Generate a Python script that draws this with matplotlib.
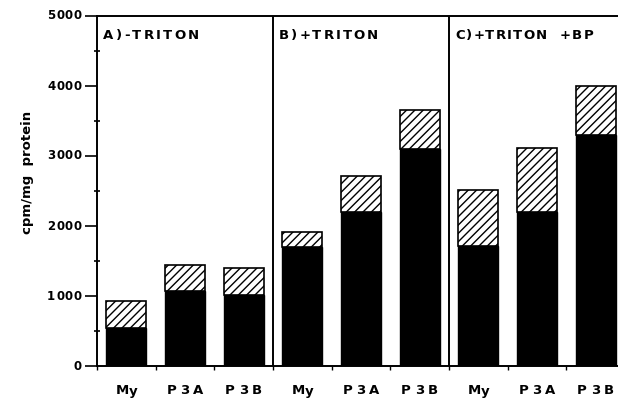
import matplotlib
matplotlib.use("Agg")
import matplotlib.pyplot as plt
from matplotlib.transforms import offset_copy
import numpy as np

plt.rcParams['font.family'] = ['DejaVu Sans']
plt.rcParams['hatch.linewidth'] = 1.0

panels = ["A)-TRITON", "B)+TRITON", "C)+TRITON  +BP"]
categories = ["My", "P3A", "P3B"]
# black (lower) portion and total height per panel
black_vals = [[550, 1070, 1020],
              [1700, 2200, 3100],
              [1720, 2200, 3300]]
total_vals = [[930, 1440, 1400],
              [1910, 2720, 3660],
              [2510, 3120, 4000]]
y_ticks = [0, 1000, 2000, 3000, 4000, 5000]

fig = plt.figure(figsize=(6.18, 4.03), dpi=100)
ax = fig.add_axes([97/618, 1-366/403, (625-97)/618, 350/403])
renderer = fig.canvas.get_renderer()


def char_width(ch, **kw):
    t1 = fig.text(0, 0, "x" + ch + "x", **kw)
    t2 = fig.text(0, 0, "xx", **kw)
    w = t1.get_window_extent(renderer).width - t2.get_window_extent(renderer).width
    t1.remove()
    t2.remove()
    return w


def spaced_text(x, y, s, gap, transform, ha='left', va='center', dx=0, dy=0, **kw):
    widths = [char_width(c, **kw) for c in s]
    total = sum(widths) + gap * (len(s) - 1)
    off = {'left': 0, 'center': -total / 2, 'right': -total}[ha] + dx
    for c, w in zip(s, widths):
        if c != ' ':
            tr = offset_copy(transform, fig=fig, x=off, y=dy, units='dots')
            ax.text(x, y, c, transform=tr, ha='left', va=va, clip_on=False, **kw)
        off += w + gap


n = len(categories)
centers, labels, blacks, tops = [], [], [], []
for p in range(len(panels)):
    for i in range(n):
        centers.append(p*n + i + 0.5)
        labels.append(categories[i])
        blacks.append(black_vals[p][i])
        tops.append(total_vals[p][i] - black_vals[p][i])
centers = np.array(centers)
blacks = np.array(blacks)
tops = np.array(tops)

w = 0.68
ax.bar(centers, blacks, width=w, color='black', edgecolor='black', linewidth=1.0)
ax.bar(centers, tops, bottom=blacks, width=w, facecolor='white', edgecolor='black',
       hatch='////', linewidth=1.2)

for p in range(1, len(panels)):
    ax.axvline(p*n, color='black', linewidth=1.4)

ax.set_xlim(0, len(panels)*n)
ax.set_ylim(0, 5000)

# panel titles
title_gap = [2.3, 2.0, 1.2]
for p, name in enumerate(panels):
    spaced_text(p*n, 4723, name, title_gap[p], ax.transData, ha='left', va='center', dx=6,
                fontsize=9.5, fontweight='bold')

# y tick labels
ax.set_yticks(y_ticks)
ax.set_yticklabels([])
for v in y_ticks:
    spaced_text(0, v, str(v), 0.8, ax.get_yaxis_transform(), ha='right', va='center',
                dx=-15, fontsize=8.5, fontweight='bold')
ax.set_yticks(np.arange(500, 5000, 1000), minor=True)

# x tick labels
ax.set_xticks(np.arange(0, len(panels)*n + 1))
ax.set_xticklabels([])
xlabel_gap = {"My": 0.0}
for c, lab in zip(centers, labels):
    spaced_text(c, 0, lab, xlabel_gap.get(lab, 4), ax.get_xaxis_transform(), ha='center',
                va='center', dy=-25, fontsize=9.5, fontweight='bold')

ax.tick_params(axis='x', which='major', direction='out', length=3, width=1)
ax.tick_params(axis='y', which='major', direction='out', length=9, width=1.2)
ax.tick_params(axis='y', which='minor', direction='inout', length=5, width=1.2)
for s in ax.spines.values():
    s.set_linewidth(1.4)

fig.text(27/618, 1-172/403, "cpm/mg  protein", rotation=90, fontsize=9.5,
         fontweight='bold', ha='center', va='center')

fig.savefig("out.png", dpi=100)
